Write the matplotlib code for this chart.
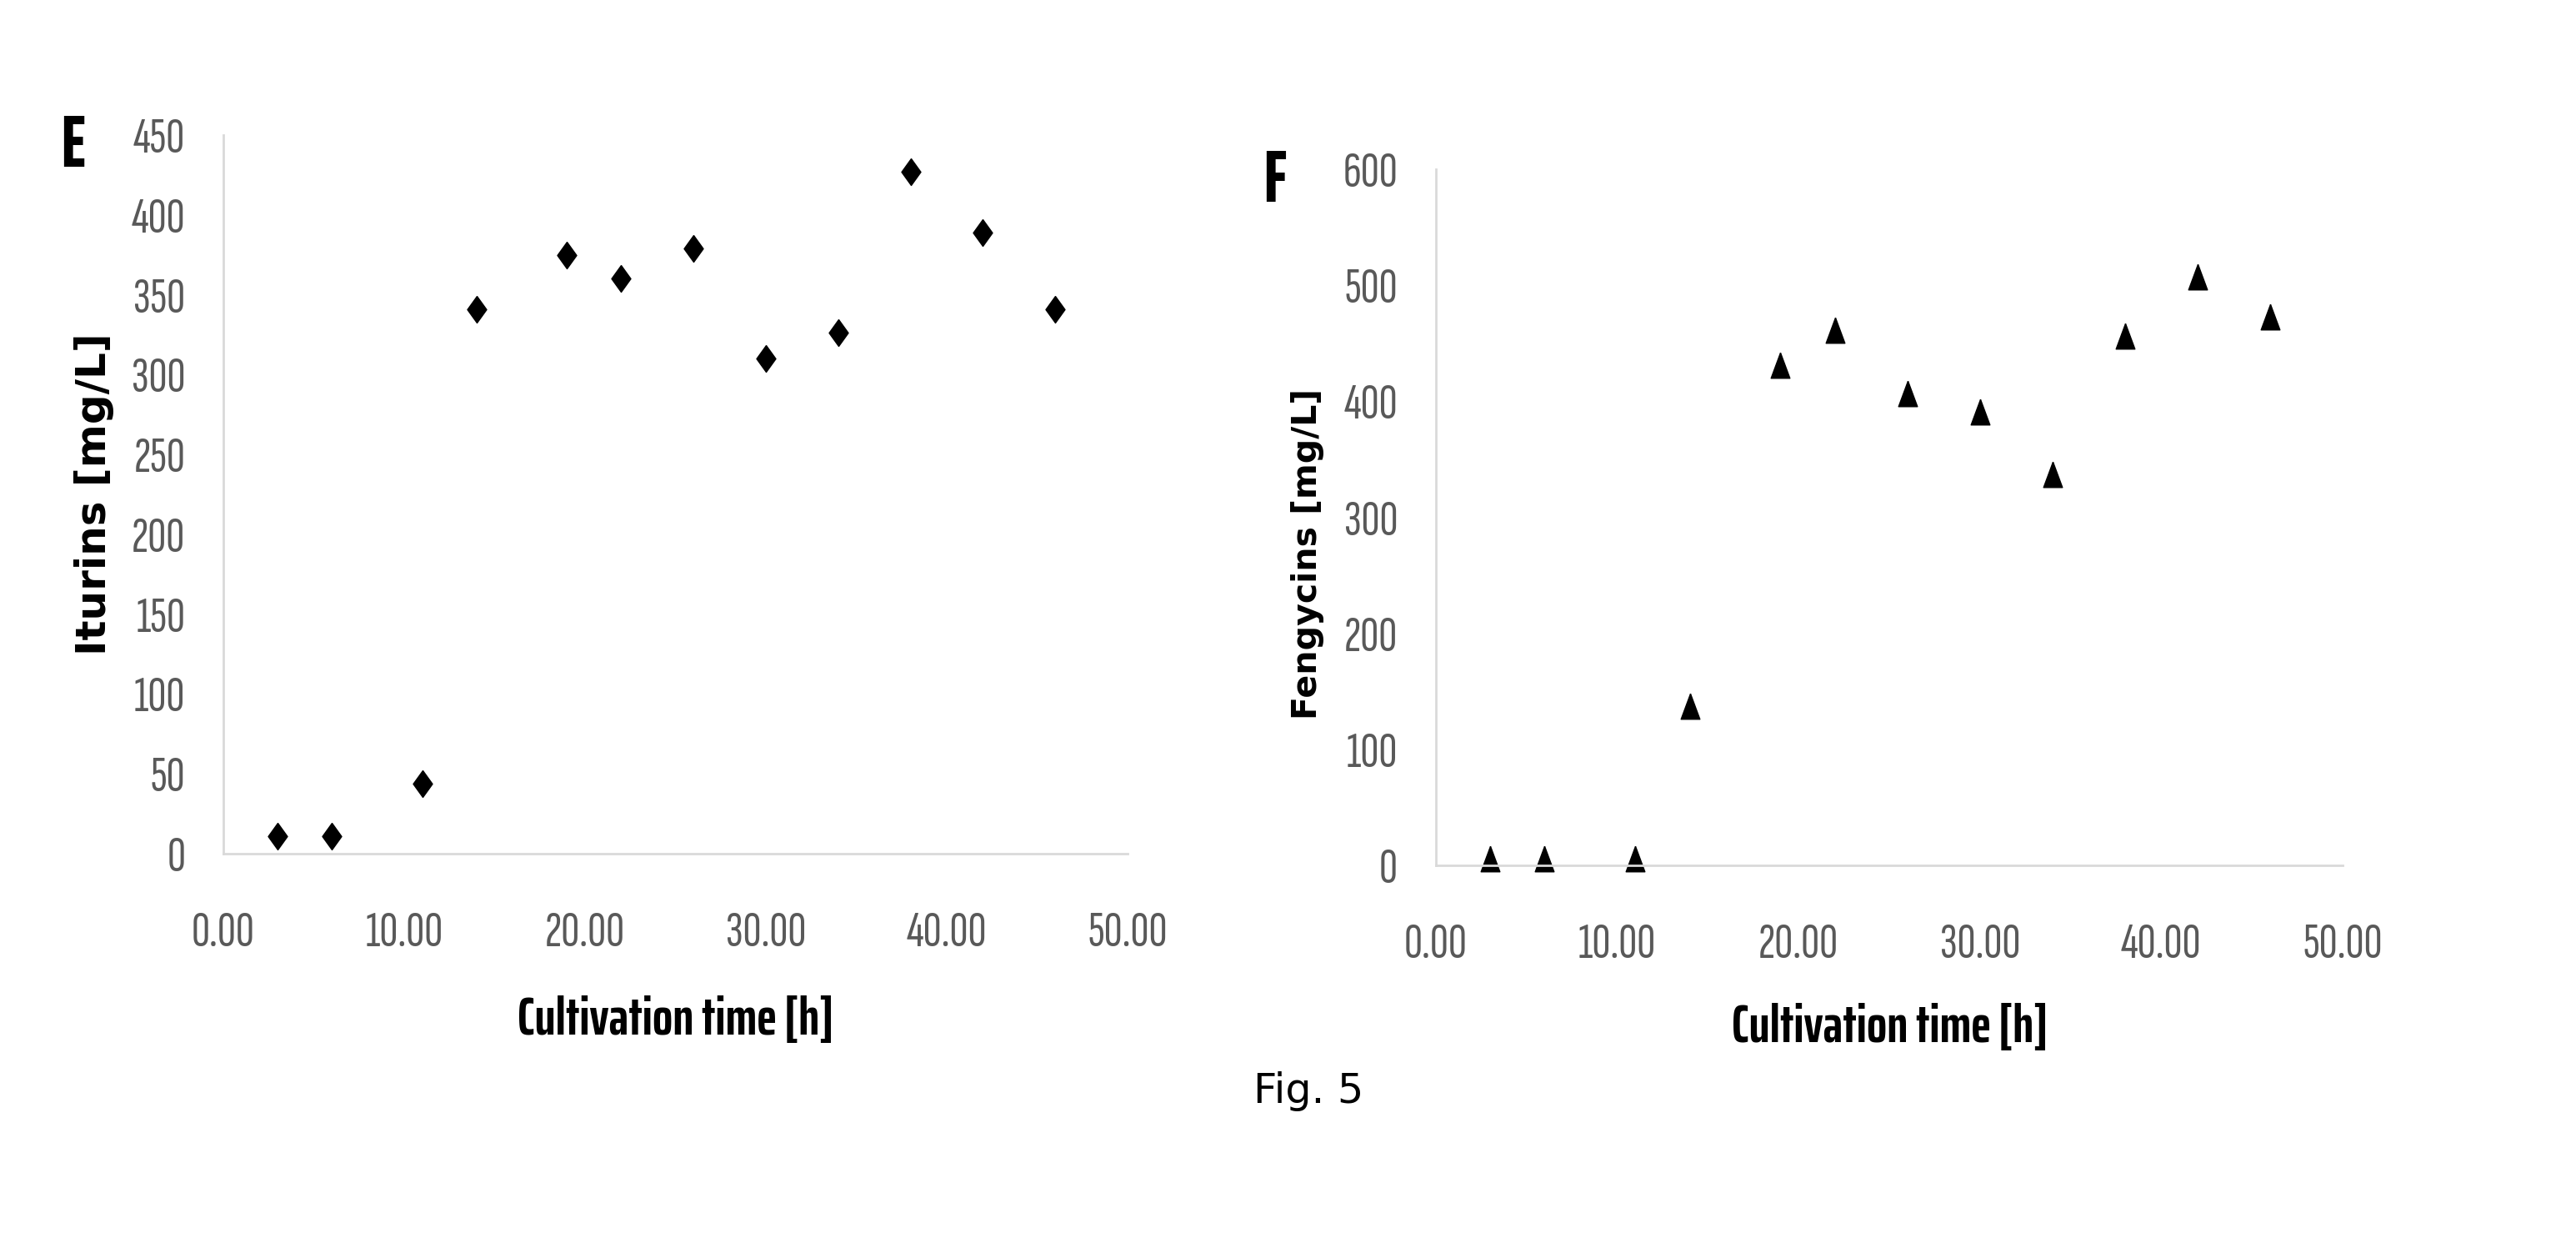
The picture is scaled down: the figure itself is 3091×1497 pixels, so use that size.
import matplotlib
matplotlib.use("Agg")
from matplotlib import pyplot as plt

# cultivation times [h]
time_e = [3, 6, 11, 14, 19, 22, 26, 30, 34, 38, 42, 46]
iturins = [11, 11, 44, 341, 375, 360, 379, 310, 326, 427, 389, 341]

time_f = [3, 6, 11, 14, 19, 22, 26, 30, 34, 38, 42, 46]
fengycins = [6, 6, 6, 137, 431, 461, 407, 391, 337, 456, 507, 473]

xticks = [0, 10, 20, 30, 40, 50]
yticks_e = list(range(0, 451, 50))
yticks_f = list(range(0, 601, 100))

TICK_FONT = ['Sofia Sans Extra Condensed', 'DejaVu Sans']
LABEL_FONT = ['Saira ExtraCondensed', 'DejaVu Sans']
TICK_COLOR = '#595959'
AXIS_COLOR = '#d9d9d9'

diamond = [(0, 1), (0.72, 0), (0, -1), (-0.72, 0), (0, 1)]
triangle = [(0, 1), (0.74, -1), (-0.74, -1), (0, 1)]

fig = plt.figure(figsize=(30.91, 14.97), dpi=100)


def style_axes(ax, yticks, ymax, ylabel, ylab_size, ylab_xy, xlab_y):
    ax.set_xlim(0, 50)
    ax.set_ylim(0, ymax)
    ax.set_xticks(xticks)
    ax.set_xticklabels(["%.2f" % v for v in xticks])
    ax.set_yticks(yticks)
    for s in ('top', 'right'):
        ax.spines[s].set_visible(False)
    for s in ('left', 'bottom'):
        ax.spines[s].set_color(AXIS_COLOR)
        ax.spines[s].set_linewidth(2)
    ax.tick_params(length=0, colors=TICK_COLOR)
    ax.tick_params(axis='x', pad=50)
    ax.tick_params(axis='y', pad=33)
    for lab in ax.get_xticklabels() + ax.get_yticklabels():
        lab.set_family(TICK_FONT)
        lab.set_fontsize(44)
        lab.set_color(TICK_COLOR)
    ax.set_xlabel("Cultivation time [h]", family=LABEL_FONT, fontsize=46,
                  fontweight='bold')
    ax.xaxis.label.set_va('center')
    ax.xaxis.set_label_coords(0.5, xlab_y)
    ax.set_ylabel(ylabel, family='DejaVu Sans', fontsize=ylab_size,
                  fontweight='bold')
    ax.yaxis.label.set_va('center')
    ax.yaxis.set_label_coords(*ylab_xy)


# panel E
ax1 = fig.add_axes([0.0867, 0.3160, 0.3510, 0.5758])
ax1.plot(time_e, iturins, linestyle='none', marker=diamond,
         markersize=23, color='black', clip_on=False)
style_axes(ax1, yticks_e, 450, "Iturins [mg/L]", 36, (-0.143, 0.5), -0.231)
fig.text(87 / 3091, 1 - 175 / 1497, "E", family=LABEL_FONT, fontsize=64,
         fontweight='bold', ha='center', va='center')

# panel F
ax2 = fig.add_axes([0.5574, 0.3066, 0.3520, 0.5578])
ax2.plot(time_f, fengycins, linestyle='none', marker=triangle,
         markersize=22, color='black', clip_on=False)
style_axes(ax2, yticks_f, 600, "Fengycins [mg/L]", 29.5, (-0.1415, 0.447), -0.2335)
fig.text(1529 / 3091, 1 - 218 / 1497, "F", family=LABEL_FONT, fontsize=64,
         fontweight='bold', ha='center', va='center')

fig.text(1570 / 3091, 1 - 1323 / 1497, "Fig. 5", family='DejaVu Sans',
         fontsize=35.5, ha='center', va='baseline')

fig.savefig("out.png", dpi=100)
